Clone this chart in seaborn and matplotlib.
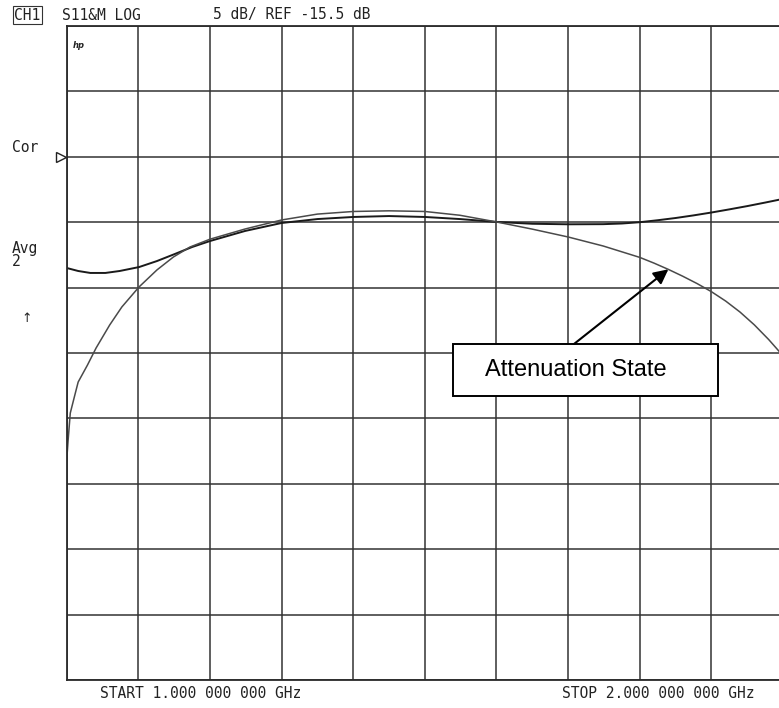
import numpy as np
import pandas as pd
import matplotlib
matplotlib.use("Agg")
import matplotlib.pyplot as plt
import seaborn as sns

# S11 magnitude traces (GHz, dB)
freq_thru = [1.000, 1.016, 1.033, 1.054, 1.074, 1.101, 1.126, 1.151, 1.175, 1.200,
             1.249, 1.300, 1.350, 1.400, 1.450, 1.500, 1.549, 1.600, 1.650, 1.700,
             1.749, 1.775, 1.800, 1.825, 1.850, 1.875, 1.900, 1.925, 1.950, 1.975, 2.000]
db_thru = [-24.00, -24.23, -24.38, -24.38, -24.23, -23.93, -23.47, -22.93, -22.40, -21.94,
           -21.17, -20.56, -20.26, -20.10, -20.03, -20.10, -20.26, -20.48, -20.62, -20.66,
           -20.65, -20.60, -20.50, -20.35, -20.18, -19.98, -19.76, -19.52, -19.27, -19.00, -18.72]

freq_atten = [1.000, 1.002, 1.005, 1.011, 1.016, 1.029, 1.041, 1.060, 1.077, 1.101,
              1.126, 1.149, 1.172, 1.200, 1.249, 1.300, 1.350, 1.400, 1.450, 1.500,
              1.549, 1.600, 1.650, 1.700, 1.749, 1.800, 1.820, 1.840, 1.860, 1.880,
              1.900, 1.920, 1.940, 1.960, 1.980, 2.000]
db_atten = [-38.70, -37.15, -35.09, -33.79, -32.72, -31.42, -30.12, -28.36, -26.98, -25.45,
            -24.15, -23.16, -22.40, -21.80, -21.02, -20.33, -19.88, -19.68, -19.63, -19.68,
            -19.97, -20.48, -21.03, -21.63, -22.32, -23.19, -23.63, -24.11, -24.63, -25.19,
            -25.81, -26.53, -27.37, -28.35, -29.47, -30.71]

start_ghz = 1.0
stop_ghz = 2.0
scale_db = 5
ref_db = -15.5
ref_div = 2          # reference line is 2 divisions below the top
n_div = 10
arrow_tip = (1.840, -24.1)
label = "Attenuation State"

df = pd.concat([
    pd.DataFrame({"f": freq_thru, "db": db_thru, "trace": "thru"}),
    pd.DataFrame({"f": freq_atten, "db": db_atten, "trace": "atten"}),
])

sns.set_style("white")
plt.rcParams["font.family"] = ["DejaVu Sans Mono", "DejaVu Sans"]

W, H = 779, 708
fig = plt.figure(figsize=(W / 100, H / 100), dpi=100)
ax_l, ax_r, ax_t, ax_b = 66.7, 783.0, 26.0, 680.0
ax = fig.add_axes([ax_l / W, 1 - ax_b / H, (ax_r - ax_l) / W, (ax_b - ax_t) / H])

sns.lineplot(data=df, x="f", y="db", hue="trace", sort=False, estimator=None,
             palette={"thru": "#1a1a1a", "atten": "#4a4a4a"}, legend=False, ax=ax)
for ln, w in zip(ax.lines, [1.4, 1.1]):
    ln.set_linewidth(w)
    ln.set_solid_joinstyle("round")

top_db = ref_db + ref_div * scale_db
ax.set_xlim(start_ghz, stop_ghz)
ax.set_ylim(top_db - n_div * scale_db, top_db)
ax.set_xticks(np.linspace(start_ghz, stop_ghz, n_div + 1))
ax.set_yticks(np.linspace(top_db - n_div * scale_db, top_db, n_div + 1))
ax.grid(True, color="#333333", lw=1.1)
ax.tick_params(length=0, labelbottom=False, labelleft=False)
ax.set_xlabel("")
ax.set_ylabel("")
for s in ax.spines.values():
    s.set_color("#2a2a2a")
    s.set_linewidth(1.3)

# reference marker
ax.plot([-0.008], [ref_db], marker=">", ms=7, mfc="white", mec="#222", mew=1.0,
        transform=ax.get_yaxis_transform(), clip_on=False)

# header / footer text
def ftext(x, y, s, **kw):
    fig.text(x / W, 1 - y / H, s, va="center", color="#222", **kw)

ftext(14, 15, "CH1", fontsize=10.5,
      bbox=dict(boxstyle="square,pad=0.1", fc="white", ec="#333", lw=0.8))
ftext(62, 15, "S11&M LOG", fontsize=10.5)
ftext(213, 15, "5 dB/ REF -15.5 dB", fontsize=10.5)
ftext(73, 45, "hp", fontsize=6, fontweight="bold", style="italic", family="DejaVu Sans")
ftext(12, 147, "Cor", fontsize=10.5)
ftext(12, 248, "Avg", fontsize=10.5)
ftext(12, 262, "2", fontsize=10.5)
ftext(21, 319, "\u2191", fontsize=9, family="DejaVu Sans")
ftext(100, 693, "START 1.000 000 000 GHz", fontsize=10.5)
ftext(562, 693, "STOP 2.000 000 000 GHz", fontsize=10.5)

# callout box
def axx(px):
    return (px - ax_l) / (ax_r - ax_l)

def axy(py):
    return (ax_b - py) / (ax_b - ax_t)

box = plt.Rectangle((axx(453), axy(396)), axx(718) - axx(453), axy(344) - axy(396),
                    transform=ax.transAxes, fc="white", ec="black", lw=1.4, zorder=5)
ax.add_patch(box)
ax.text(axx(576), axy(370), label, transform=ax.transAxes, ha="center", va="center",
        fontsize=17, family="Liberation Sans", color="black", zorder=6)
ax.annotate("", xy=arrow_tip, xycoords="data",
            xytext=(axx(574), axy(344)), textcoords="axes fraction",
            arrowprops=dict(arrowstyle="-|>", color="black", lw=1.5, mutation_scale=22,
                            shrinkA=0, shrinkB=0), zorder=6)

fig.savefig("out.png", dpi=100)
